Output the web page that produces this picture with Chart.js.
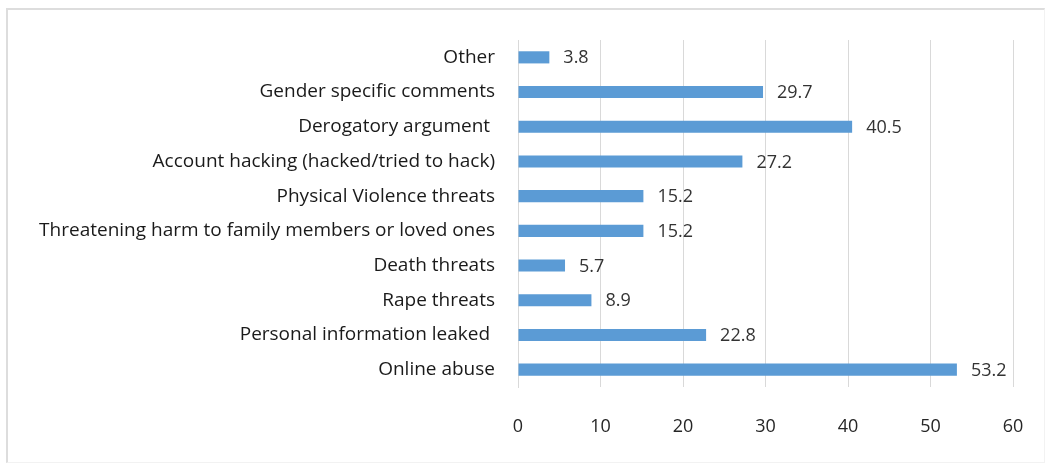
<html>
<head>
<script src="https://cdn.jsdelivr.net/npm/chart.js@4"></script>
<style>
	body { margin: 0; background: #fff; }
	#frame { position: absolute; left: 6px; top: 8px; width: 1036px; height: 452px;
		border-top: 2px solid #dddddd; border-left: 2px solid #dddddd;
		border-right: 1px solid #f2f2f2; border-bottom: 1px solid #f2f2f2; }
	#wrap { position: absolute; left: 0; top: 0; width: 1046px; height: 466px; }
</style>
</head>
<body>
<div id="frame"></div>
<div id="wrap"><canvas id="abuse" width="1046" height="466"></canvas></div>

<script>
// percentages of respondents by type of abuse, top to bottom
var categories = [
	"Other",
	"Gender specific comments",
	"Derogatory argument ",
	"Account hacking (hacked/tried to hack)",
	"Physical Violence threats",
	"Threatening harm to family members or loved ones",
	"Death threats",
	"Rape threats",
	"Personal information leaked ",
	"Online abuse"
];
var percents = [3.8, 29.7, 40.5, 27.2, 15.2, 15.2, 5.7, 8.9, 22.8, 53.2];
var xTicks = [0, 10, 20, 30, 40, 50, 60];

var fontFamily = "'Open Sans', 'Noto Sans', sans-serif";

// writes the value just past the end of each bar
var valueLabels = {
	id: "valueLabels",
	afterDatasetsDraw: function(chart) {
		var ctx = chart.ctx;
		var meta = chart.getDatasetMeta(0);
		ctx.save();
		ctx.font = "18px " + fontFamily;
		ctx.fillStyle = "#333333";
		ctx.textAlign = "left";
		ctx.textBaseline = "middle";
		meta.data.forEach(function(bar, i) {
			ctx.fillText(percents[i].toFixed(1), bar.x + 14, bar.y + 1);
		});
		ctx.restore();
	}
};

new Chart(document.getElementById("abuse"), {
	type: "bar",
	data: {
		labels: categories,
		datasets: [{
			data: percents,
			backgroundColor: "#5b9bd5",
			borderWidth: 0,
			barPercentage: 0.35,
			categoryPercentage: 1.0
		}]
	},
	options: {
		indexAxis: "y",
		responsive: false,
		animation: false,
		layout: { padding: { top: 40, right: 33, bottom: 0, left: 0 } },
		plugins: { legend: { display: false }, tooltip: { enabled: false } },
		scales: {
			x: {
				min: 0, max: 60,
				afterBuildTicks: function(scale) {
					scale.ticks = xTicks.map(function(v) { return { value: v }; });
				},
				afterFit: function(scale) {
					scale.height = 79;
					scale.paddingLeft = 0;
					scale.paddingRight = 0;
				},
				grid: { color: "#d9d9d9", lineWidth: 1, drawTicks: false },
				border: { display: false },
				ticks: { padding: 29, color: "#262626", font: { family: fontFamily, size: 18 } }
			},
			y: {
				afterFit: function(scale) {
					scale.width = 518;
					scale.paddingTop = 0;
					scale.paddingBottom = 0;
				},
				grid: { display: false, drawTicks: false },
				border: { display: true, color: "#d9d9d9", width: 1 },
				ticks: { padding: 23, color: "#1a1a1a", font: { family: fontFamily, size: 19 } }
			}
		}
	},
	plugins: [valueLabels]
});
</script>
</body>
</html>
